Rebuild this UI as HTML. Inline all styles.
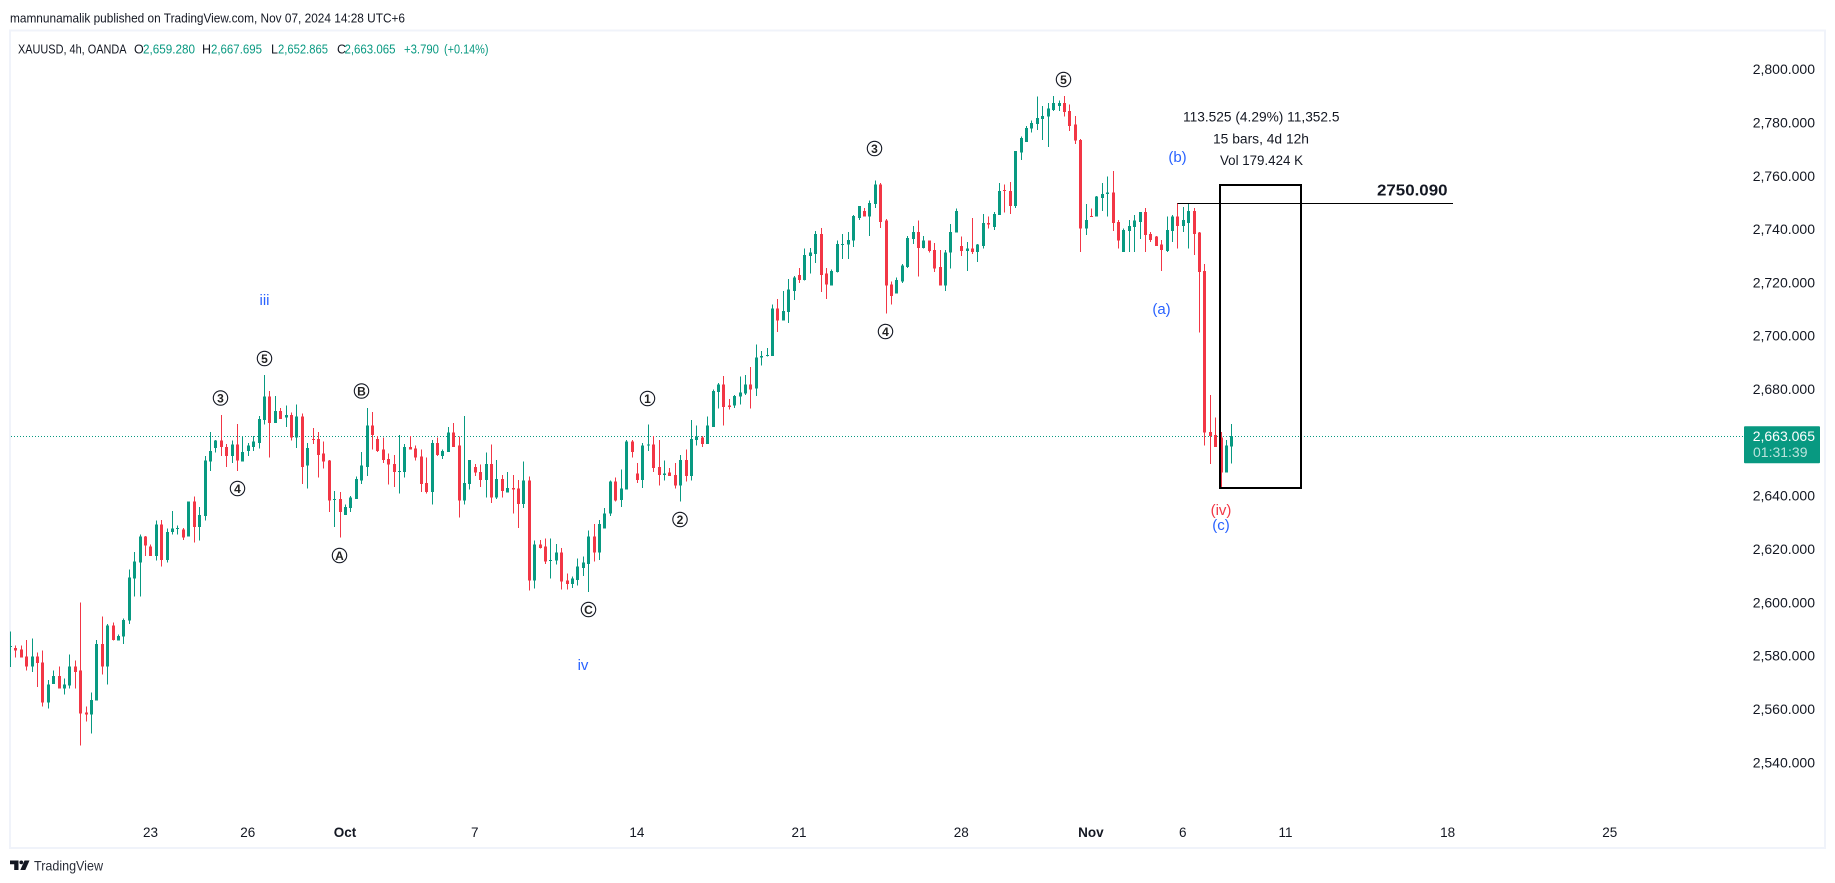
<!DOCTYPE html>
<html lang="en">
<head>
<meta charset="utf-8">
<title>XAUUSD 4h chart</title>
<style>
html,body{margin:0;padding:0;background:#fff;width:1835px;height:883px;overflow:hidden}
svg{display:block}
text{font-family:"Liberation Sans",sans-serif;fill:#131722}
.num{font-size:14px}
.tm{font-size:13.5px;text-anchor:middle}
.blue{fill:#2962ff;font-size:15px;text-anchor:middle}
.dig{font-size:12px;text-anchor:middle;font-weight:bold;fill:#222}
.circ{fill:#fff;stroke:#131722;stroke-width:1.1}
.m{font-size:13.5px}
.hd{font-size:12.5px}
.g{fill:#089981}
</style>
</head>
<body>
<svg id="chart" xmlns="http://www.w3.org/2000/svg" width="1835" height="883" viewBox="0 0 1835 883">
  <defs><clipPath id="pane"><rect x="10" y="31" width="1814" height="816"/></clipPath></defs>
  <rect x="10" y="30.5" width="1815" height="817.5" fill="none" stroke="#f0f3fa" stroke-width="2"/>

  <text x="10" y="22.5" font-size="13" textLength="395" lengthAdjust="spacingAndGlyphs">mamnunamalik published on TradingView.com, Nov 07, 2024 14:28 UTC+6</text>

  <g>
    <text class="hd" x="18" y="53.5" textLength="108.5" lengthAdjust="spacingAndGlyphs">XAUUSD, 4h, OANDA</text>
    <text class="hd" x="134" y="53.5">O</text><text class="hd g" x="143" y="53.5" textLength="52" lengthAdjust="spacingAndGlyphs">2,659.280</text>
    <text class="hd" x="202" y="53.5">H</text><text class="hd g" x="211" y="53.5" textLength="51" lengthAdjust="spacingAndGlyphs">2,667.695</text>
    <text class="hd" x="271" y="53.5">L</text><text class="hd g" x="278" y="53.5" textLength="50" lengthAdjust="spacingAndGlyphs">2,652.865</text>
    <text class="hd" x="337" y="53.5">C</text><text class="hd g" x="344.5" y="53.5" textLength="51" lengthAdjust="spacingAndGlyphs">2,663.065</text>
    <text class="hd g" x="404" y="53.5" textLength="35" lengthAdjust="spacingAndGlyphs">+3.790</text>
    <text class="hd g" x="444" y="53.5" textLength="44.5" lengthAdjust="spacingAndGlyphs">(+0.14%)</text>
  </g>

  <g id="y-axis"></g>
  <g id="x-axis"></g>
  <g id="price-line-layer"></g>
  <g id="candles" clip-path="url(#pane)" shape-rendering="crispEdges"></g>
  <g id="drawings" shape-rendering="crispEdges"></g>

  <g>
    <g><circle class="circ" cx="220.5" cy="398" r="7.2"/><text class="dig" x="220.5" y="402.3">3</text></g>
    <g><circle class="circ" cx="237.5" cy="488.5" r="7.2"/><text class="dig" x="237.5" y="492.8">4</text></g>
    <g><circle class="circ" cx="264.5" cy="358.5" r="7.2"/><text class="dig" x="264.5" y="362.8">5</text></g>
    <g><circle class="circ" cx="361.5" cy="391" r="7.2"/><text class="dig" x="361.5" y="395.3">B</text></g>
    <g><circle class="circ" cx="339.5" cy="555.5" r="7.2"/><text class="dig" x="339.5" y="559.8">A</text></g>
    <g><circle class="circ" cx="588.5" cy="609.5" r="7.2"/><text class="dig" x="588.5" y="613.8">C</text></g>
    <g><circle class="circ" cx="647.5" cy="398.5" r="7.2"/><text class="dig" x="647.5" y="402.8">1</text></g>
    <g><circle class="circ" cx="680" cy="519.5" r="7.2"/><text class="dig" x="680" y="523.8">2</text></g>
    <g><circle class="circ" cx="874.5" cy="148.5" r="7.2"/><text class="dig" x="874.5" y="152.8">3</text></g>
    <g><circle class="circ" cx="885.5" cy="331.5" r="7.2"/><text class="dig" x="885.5" y="335.8">4</text></g>
    <g><circle class="circ" cx="1063.5" cy="79.5" r="7.2"/><text class="dig" x="1063.5" y="83.8">5</text></g>
    <text class="blue" x="264.5" y="305">iii</text>
    <text class="blue" x="583" y="670">iv</text>
    <text class="blue" x="1161.5" y="314">(a)</text>
    <text class="blue" x="1177.5" y="162">(b)</text>
    <text x="1221" y="515" font-size="15" text-anchor="middle" style="fill:#f23645">(iv)</text>
    <text class="blue" x="1221" y="530">(c)</text>
  </g>

  <g>
    <text class="m" x="1183" y="121.5" textLength="156.5" lengthAdjust="spacingAndGlyphs">113.525 (4.29%) 11,352.5</text>
    <text class="m" x="1213" y="143.5" textLength="96" lengthAdjust="spacingAndGlyphs">15 bars, 4d 12h</text>
    <text class="m" x="1220" y="165" textLength="83" lengthAdjust="spacingAndGlyphs">Vol 179.424 K</text>
  </g>
  <text x="1377" y="195.5" font-size="15.5" font-weight="bold" textLength="70.5" lengthAdjust="spacingAndGlyphs">2750.090</text>

  <g>
    <path d="M10 860.5h8.5v9.5h-4.3v-5.7H10z" fill="#131722"/>
    <circle cx="21.3" cy="862.4" r="1.9" fill="#131722"/>
    <path d="M24.5 860.5h5l-4.2 9.5h-5z" fill="#131722"/>
    <text x="34" y="870.5" font-size="14" textLength="69" lengthAdjust="spacingAndGlyphs" style="fill:#2a2e39">TradingView</text>
  </g>
</svg>
<script>
var priceTicks = [2800,2780,2760,2740,2720,2700,2680,2660,2640,2620,2600,2580,2560,2540];
var timeTickBars = [26,44,62,86,116,146,176,200,217,236,266,296];
var timeTickLabels = ["23","26","Oct","7","14","21","28","Nov","6","11","18","25"];
var boldTimeLabels = ["Oct","Nov"];
var countdownLabel = "01:31:39";
var levelPrice = 2750.09;
var levelStartBar = 216;
var levelEndBar = 267;
var boxStartBar = 224;
var boxEndBar = 239;
var boxHighPrice = 2757.33;
var boxLowPrice = 2643.8;

var opens = [2584,2583.7,2583,2580.4,2576.7,2580.4,2578.1,2563.2,2570.2,2573.2,
2568.4,2569.5,2576.6,2575.1,2559.4,2558.6,2563.9,2585.2,2576.6,2592,
2586.4,2587.9,2593.9,2609.6,2615.6,2625.4,2621.6,2618.2,2629.9,2616.7,
2627.2,2628.4,2628,2625.4,2638.5,2629.1,2633.2,2653.5,2658.7,2661.4,
2659.1,2655.7,2659.9,2653.5,2657.6,2659.1,2660.6,2669.2,2677.9,2668.1,
2672.6,2670,2671.1,2662.5,2670.4,2652,2662.1,2662.1,2656.5,2653.9,
2639.2,2639.6,2633.6,2636.2,2639.6,2646.4,2651.6,2667,2662.1,2658,
2654.6,2652.7,2649.7,2649.7,2659.1,2658.4,2655.4,2645.6,2642.2,2660.6,
2655.7,2657.2,2664.4,2659.5,2638.9,2645.2,2651.6,2649.7,2646.7,2652.7,
2640,2647.1,2641.9,2643.7,2643.4,2637.7,2646.4,2608.9,2622.4,2621.6,
2616.4,2616.4,2619.4,2608.9,2607.7,2609.2,2613.7,2615.2,2625.4,2619.4,
2628.4,2634,2646,2639.2,2643,2661,2649,2646.7,2659.5,2659.9,
2651.6,2648.6,2649.4,2648.6,2644.5,2654.2,2648.2,2661.7,2662.5,2660.2,
2666.6,2679.7,2682.4,2674.5,2674.5,2677.9,2679,2682.4,2680.9,2692.5,
2693.2,2693.2,2710.9,2706.4,2709.7,2717.6,2723.6,2721.7,2730.7,2731.5,
2739,2724,2719.5,2724.7,2734.9,2734.9,2736.4,2745,2747.6,2745.4,
2750.2,2757.4,2743.9,2719.9,2716.5,2721,2726.6,2737.1,2739.7,2733.7,
2736.4,2733,2726.6,2719.5,2731.9,2739.4,2734.5,2732.6,2733.4,2732.2,
2734.5,2743.1,2741.6,2746.1,2755.5,2755.1,2749.5,2769.4,2773.5,2778.4,
2780.2,2782.1,2782.9,2785.5,2787,2788.1,2785.1,2779.9,2774.2,2740.9,
2745.7,2745.4,2752.5,2754,2754.4,2743.5,2732.2,2740.1,2741.6,2743.5,
2747.2,2739,2737.9,2734.9,2732.6,2740.1,2745.4,2742,2743.1,2747.6,
2739.4,2725.1,2664.7,2663.6,2662.5,2649.4,2659.28];

var highs = [2589.9,2584.6,2584.6,2586.7,2587.1,2581.9,2582.6,2571.7,2575.1,2576.6,
2572.1,2581.1,2578.9,2600.6,2561.6,2566.9,2586.7,2595.4,2592.7,2593.1,
2588.6,2594.6,2613,2619.7,2626.1,2625.7,2622.4,2631.4,2631.7,2628.4,
2635.1,2629.5,2628.7,2638.5,2640.4,2636.6,2655.7,2664.7,2661.7,2671.1,
2660.2,2661.4,2667.7,2663.2,2660.6,2663.2,2670.7,2686.1,2680.1,2678.2,
2673.7,2674.5,2671.9,2674.9,2671.5,2660.6,2666.2,2664.7,2661,2654.2,
2642.6,2642.2,2637.4,2640.7,2647.9,2657.2,2673.7,2672.2,2663.2,2662.5,
2656.5,2656.1,2663.6,2660.2,2663.2,2659.5,2658,2655,2661.7,2662.5,
2658,2666.6,2668.1,2662.9,2670.7,2654.2,2652.7,2652.4,2656.9,2659.9,
2654.2,2648.6,2649.7,2648.6,2646.7,2653.5,2647.9,2623.9,2624.2,2624.6,
2624.6,2622.7,2621.2,2611.5,2610.4,2617.1,2617.9,2627.6,2630.2,2631.7,
2636.2,2646.4,2647.5,2650.5,2661.7,2661.7,2653.1,2660.6,2667.4,2663.2,
2661.7,2653.9,2651.2,2653.1,2656.1,2658,2669.2,2667,2663.2,2670.4,
2680.5,2683.1,2685.7,2677.1,2678.6,2685.4,2686.1,2689.1,2697.4,2695.1,
2696.2,2712.4,2714.6,2717.6,2722.1,2723.2,2726.2,2733.4,2733.7,2740.1,
2741.2,2726.2,2725.5,2736.4,2739,2739.7,2746.1,2749.5,2748.7,2751.4,
2758.9,2758.1,2744.6,2721,2722.5,2727.7,2738.2,2742,2743.9,2738.2,
2736.4,2735.6,2733,2733,2742.7,2748.4,2737.9,2736,2745,2735.2,
2746.5,2745.4,2747.2,2758.1,2757.4,2758.5,2770.1,2775.4,2779.5,2781.4,
2790.4,2787,2788.1,2790.7,2788.9,2790.7,2787.4,2783.2,2774.6,2750.2,
2748.4,2753.2,2758.1,2760.4,2762.6,2744.2,2740.9,2744.2,2746.1,2747.2,
2748.7,2739.7,2738.2,2736.7,2745.4,2746.1,2750.6,2749.1,2750.2,2748.7,
2739.7,2727.7,2678.6,2670,2664.7,2661.7,2667.695];

var lows = [2576.4,2580.1,2580.1,2575.1,2574.7,2568.9,2561.6,2560.9,2570.2,2568.4,
2566.1,2568.4,2568.4,2547,2556,2551.5,2563.9,2573.6,2569.9,2586.4,
2586.4,2585.2,2592.7,2602.9,2602.9,2618.2,2618.2,2616.4,2614.1,2615.6,
2626.1,2626.1,2624.2,2625.4,2623.1,2623.9,2631.4,2650.1,2656.9,2655.7,
2651.6,2653.1,2650.1,2653.5,2655.7,2657.6,2658.4,2667.4,2655,2668.1,
2669.6,2666.6,2661.4,2658.7,2645.2,2643.4,2660.2,2647.5,2650.9,2634.7,
2629.1,2625,2633.6,2634.7,2639.6,2645.2,2648.2,2658,2657.2,2653.1,
2644.9,2644.1,2641.5,2647.5,2658,2653.9,2642.2,2641.5,2637.4,2655.7,
2654.6,2657.2,2659.1,2632.5,2637.4,2643,2648.2,2644.1,2640,2638.1,
2639.6,2640,2641.9,2634,2628.7,2636.2,2605.1,2605.9,2620.9,2615.2,
2609.6,2614.9,2605.5,2605.5,2606.2,2607,2610.7,2604.7,2616,2616.7,
2628.4,2633.2,2638.5,2636.6,2643,2655,2645.6,2643.7,2657.6,2649.7,
2644.5,2646.4,2648.2,2643.4,2638.5,2646,2646.4,2659.5,2659.1,2660.2,
2666.6,2673.4,2667,2673,2673.7,2674.9,2678.6,2673.4,2678.2,2689.5,
2692.9,2693.2,2702.2,2706.4,2705.6,2714.2,2720.6,2721.4,2724,2728.1,
2717.2,2714.6,2719.5,2724.4,2729.6,2729.6,2734.1,2744.2,2745.4,2738.2,
2748.7,2741.2,2709,2712.4,2716.5,2720.6,2726.2,2735.2,2722.9,2733.4,
2731.9,2724.7,2719.5,2717.6,2725.9,2739.4,2730.7,2725.1,2731.5,2728.5,
2733.4,2740.9,2740.5,2746.1,2746.9,2746.5,2748.7,2766.7,2773.5,2776.9,
2778,2774.2,2771.6,2785.1,2785.1,2782.9,2777.6,2772.7,2732.2,2738.6,
2745.3,2745.4,2747.6,2745.4,2740.1,2733.4,2732.2,2732.2,2732.2,2737.1,
2732.2,2736,2734.5,2725.1,2732.2,2736,2733.4,2739.7,2733.4,2731.1,
2701.9,2659.5,2652.7,2659.1,2643.6,2649.4,2652.865];

var closes = [2584.3,2582.6,2580.1,2576.7,2580.4,2577.9,2563.2,2569.9,2573.2,2568.4,
2569.9,2576.6,2574.7,2559,2558.6,2564.2,2585.2,2576.6,2592,2586.7,
2588.2,2594.2,2610,2616,2625.4,2622,2618.2,2629.9,2616.7,2627.2,
2628.4,2628.7,2625,2638.5,2629.1,2633.6,2653.9,2657.6,2661.4,2659.1,
2655.7,2659.9,2653.9,2657.2,2659.5,2661,2669.6,2677.9,2668.1,2672.6,
2669.6,2671.1,2662.5,2670.4,2651.6,2658.7,2661.7,2656.1,2653.5,2638.9,
2639.6,2634.7,2636.6,2640,2647.1,2652,2667,2663.6,2657.6,2654.2,
2652.4,2649.7,2650.1,2659.1,2658,2655,2645.2,2642.2,2660.6,2656.1,
2657.6,2664.4,2659.1,2638.9,2645.6,2654.2,2649.4,2646.7,2652.7,2640,
2647.1,2642.6,2643.7,2643,2637.7,2646.4,2608.9,2622.4,2621.2,2616,
2616.7,2619.4,2608.5,2607.7,2609.6,2614.1,2615.6,2625.4,2619.4,2630.2,
2634,2646,2638.9,2643.4,2661,2657.2,2646.7,2659.5,2659.9,2651.2,
2648.6,2649,2648.2,2644.5,2654.2,2648.2,2662.1,2662.9,2660.2,2667,
2680.1,2682.4,2674.1,2674.1,2678.2,2679.4,2682.4,2680.5,2692.5,2693.2,
2693.6,2710.9,2706.4,2710.1,2718,2722.5,2721.7,2731.1,2731.9,2739,
2723.6,2719.9,2725.1,2735.2,2735.2,2736.7,2745.7,2749.5,2745.4,2750.6,
2757.4,2743.5,2719.5,2715.7,2721.7,2727,2737.5,2739.7,2733.7,2736.4,
2732.6,2725.9,2719.5,2731.9,2739.7,2747.6,2732.6,2733.4,2732.2,2734.9,
2743.1,2742.4,2746.5,2755.1,2755.1,2749.5,2770.1,2775,2778.7,2780.6,
2782.5,2783.2,2785.9,2788.1,2788.1,2784.7,2779.5,2773.9,2740.9,2744.2,
2745.3,2752.9,2754,2754.4,2743.1,2736.4,2740.5,2742,2743.9,2747.2,
2738.6,2736.7,2734.5,2733,2740.5,2745.4,2742,2744.2,2747.6,2739,
2724.7,2664.5,2663.2,2659.1,2649.4,2659.5,2663.065];

var NS = "http://www.w3.org/2000/svg";
var UP = "#089981";
var DOWN = "#f23645";

function xScale(bar) { return 9.93 + 5.405 * bar; }
function yScale(price) { return 436.2 - (price - 2663.065) * 2.666; }
function make(tag, attrs, parent) {
  var el = document.createElementNS(NS, tag);
  for (var k in attrs) { el.setAttribute(k, attrs[k]); }
  parent.appendChild(el);
  return el;
}
function fmt(v) {
  return v.toLocaleString("en-US", { minimumFractionDigits: 3, maximumFractionDigits: 3 });
}

var yAxis = document.getElementById("y-axis");
priceTicks.forEach(function (p) {
  var t = make("text", { "class": "num", x: 1815, y: yScale(p) + 3, "text-anchor": "end" }, yAxis);
  
  
  t.textContent = fmt(p);
});

var xAxis = document.getElementById("x-axis");
timeTickLabels.forEach(function (label, i) {
  var t = make("text", { "class": "tm", x: xScale(timeTickBars[i]), y: 837 }, xAxis);
  
  
  if (boldTimeLabels.indexOf(label) >= 0) { t.setAttribute("font-weight", "bold"); }
  t.textContent = label;
});

var candles = document.getElementById("candles");
opens.forEach(function (o, i) {
  var c = closes[i];
  var color = c >= o ? UP : DOWN;
  var cx = Math.round(xScale(i));
  var g = make("g", {}, candles);
  
  
  var wick = make("rect", {
    x: cx, y: yScale(highs[i]), width: 1,
    height: Math.max(1, yScale(lows[i]) - yScale(highs[i])), fill: color
  }, g);
  
  
  var top = yScale(Math.max(o, c));
  var bot = yScale(Math.min(o, c));
  var body = make("rect", {
    x: cx - 1, y: top, width: 3, height: Math.max(1, bot - top), fill: color
  }, g);
  
  
});

var lastPrice = closes[closes.length - 1];
var lastY = yScale(lastPrice);
var lineLayer = document.getElementById("price-line-layer");
var pl = make("line", {
  x1: 11, x2: 1744, y1: Math.floor(lastY) + 0.5, y2: Math.floor(lastY) + 0.5,
  stroke: UP, "stroke-width": 1, "stroke-dasharray": "1 2"
}, lineLayer);


var badge = make("rect", { x: 1744, y: lastY - 10, width: 76, height: 37, rx: 1, fill: UP }, lineLayer);


var badgeText = make("text", { "class": "num", x: 1815, y: lastY + 5, "text-anchor": "end", style: "fill:#fff" }, lineLayer);


badgeText.textContent = fmt(lastPrice);
var cd = make("text", { "class": "num", x: 1753, y: lastY + 21, style: "fill:#fff;fill-opacity:.72" }, lineLayer);


cd.textContent = countdownLabel;

var draw = document.getElementById("drawings");
var lvlY = Math.floor(yScale(levelPrice)) - 0.5;
var lvl = make("line", {
  x1: xScale(levelStartBar), x2: xScale(levelEndBar),
  y1: lvlY, y2: lvlY, stroke: "#000", "stroke-width": 1
}, draw);


var box = make("rect", {
  x: Math.floor(xScale(boxStartBar)) , y: Math.round(yScale(boxHighPrice)),
  width: Math.round(xScale(boxEndBar) - xScale(boxStartBar)),
  height: Math.round(yScale(boxLowPrice) - yScale(boxHighPrice)),
  fill: "none", stroke: "#000", "stroke-width": 2
}, draw);


</script>
</body>
</html>
